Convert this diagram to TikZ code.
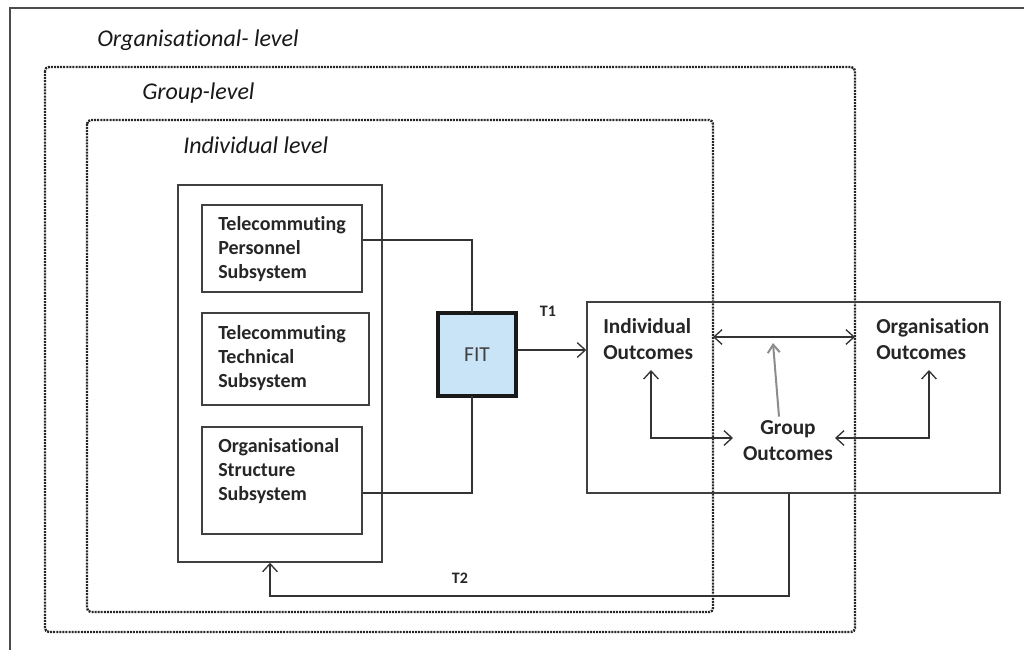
\documentclass[tikz,border=0pt]{standalone}
\usepackage{fontspec}
\setmainfont[Ligatures=CommonOff]{Carlito}
\usetikzlibrary{arrows.meta}
\definecolor{fitblue}{RGB}{200,228,246}
\begin{document}
\begin{tikzpicture}[x=0.75pt,y=-0.75pt,
  dotframe/.style={draw=black!85,line width=1.8pt,dash pattern=on 1.5pt off 0.8pt,rounded corners=3pt},
  subbox/.style={draw=black!75,line width=0.9pt,rectangle,inner sep=0pt},
  txt/.style={font=\fontsize{15}{18}\selectfont\bfseries,align=left,text=black!85,inner sep=0pt},
  otxt/.style={font=\fontsize{16}{19.5}\selectfont\bfseries,align=left,text=black!85,inner sep=0pt},
  lvl/.style={font=\fontsize{18}{21}\selectfont\itshape,text=black!90,anchor=west,inner sep=0pt},
  conn/.style={draw=black!80,line width=1pt},
  arr/.style={conn,-{Straight Barb[length=6pt,width=11pt,line width=1pt]}},
  darr/.style={conn,{Straight Barb[length=6pt,width=11pt,line width=1pt]}-{Straight Barb[length=6pt,width=11pt,line width=1pt]}}]
\useasboundingbox (0,0) rectangle (1024,650);
\fill[white] (0,0) rectangle (1024,650);
% outer organisational frame (cropped)
\draw[draw=black!70,line width=1.5pt] (10,650) -- (10,8) -- (1024,8);
% group and individual dotted frames
\draw[dotframe] (45,67) rectangle (855,632);
\draw[dotframe] (87,120) rectangle (713,612);
\node[lvl] (lo) at (97,40) {Organisational- level};
\node[lvl] (lg) at (142,93) {Group-level};
\node[lvl] (li) at (183,145) {Individual level};
% left system box
\node[subbox,minimum width=204*0.75pt,minimum height=377*0.75pt,line width=1.1pt] (sys) at (280,373.5) {};
\node[subbox,minimum width=160*0.75pt,minimum height=87*0.75pt] (tps) at (282,248.5) {};
\node[txt,anchor=north west] at (218,216) {Telecommuting\\Personnel\\Subsystem};
\node[subbox,minimum width=167*0.75pt,minimum height=92*0.75pt] (tts) at (285.5,359) {};
\node[txt,anchor=north west] at (218,325) {Telecommuting\\Technical\\Subsystem};
\node[subbox,minimum width=160*0.75pt,minimum height=107*0.75pt] (oss) at (282,480.5) {};
\node[txt,anchor=north west] at (218,438) {Organisational\\Structure\\Subsystem};
% FIT
\node[draw=black!90,line width=2.6pt,fill=fitblue,minimum width=78*0.75pt,minimum height=83*0.75pt,font=\fontsize{16}{18}\selectfont,text=black!75] (fit) at (477,354.5) {FIT};
\draw[conn] (tps.east|-0,240) -- (472,240) -- (472,313);
\draw[conn] (oss.east|-0,493) -- (472,493) -- (472,396);
% outcomes box
\node[subbox,minimum width=413*0.75pt,minimum height=191*0.75pt,line width=1.1pt] (out) at (793.5,397.5) {};
\draw[arr] (fit.east|-0,350) -- (out.west|-0,350);
\node[txt] (t1) at (548,311) {\fontsize{12}{14}\selectfont T1};
\node[otxt,anchor=north west] (io) at (603,318) {Individual\\Outcomes};
\node[otxt,anchor=north west] (oo) at (876,318) {Organisation\\Outcomes};
\node[otxt,align=center] (go) at (788,441) {Group\\Outcomes};
\coordinate (hl) at (713,337);
\coordinate (hr) at (855,337);
\draw[darr] (hl) -- (hr);
\draw[draw=black!45,line width=1.5pt,-{Straight Barb[length=6pt,width=9pt,line width=1.5pt]}] (go.north-|779,0) ++(0,-4) -- (773,343);
\draw[darr] (651,370) -- (651,438) -- (733,438);
\draw[darr] (929,370) -- (929,438) -- (835,438);
% T2 feedback
\coordinate (t2a) at (789,596);
\coordinate (t2b) at (270,596);
\draw[arr] (out.south-|789,0) -- (t2a) -- (t2b) -- (sys.south-|270,0);
\node[txt] (t2) at (460,578) {\fontsize{12}{14}\selectfont T2};
\end{tikzpicture}
\end{document}
